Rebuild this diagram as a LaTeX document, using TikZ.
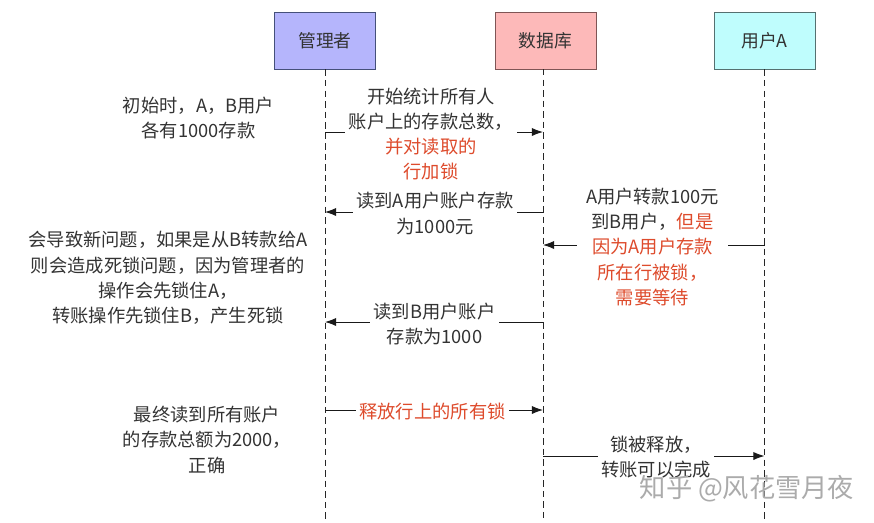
\documentclass[tikz,border=0pt]{standalone}
\usepackage{fontspec}
\setmainfont{Noto Sans CJK SC}
\usetikzlibrary{arrows.meta}
\definecolor{lockred}{HTML}{DE4B2C}
\definecolor{inktext}{HTML}{333333}
\definecolor{adminfill}{HTML}{B5B5FC}
\definecolor{dbfill}{HTML}{FDB9B9}
\definecolor{userfill}{HTML}{BFFDFD}
\definecolor{adminline}{HTML}{45507A}
\definecolor{dbline}{HTML}{7F5555}
\definecolor{userline}{HTML}{557070}
\tikzset{
	actor/.style={draw=#1, minimum width=3.03cm, minimum height=1.71cm, inner sep=0pt, line width=.75pt, font=\fontsize{15.2}{18}\selectfont, text=inktext},
	lifeline/.style={dashed, dash pattern=on 5.5pt off 3.5pt, line width=.8pt, black!85},
	msg/.style={-{Latex[length=9.5pt,width=7pt]}, line width=.8pt, black!90},
	note/.style={align=center, inner sep=1pt, text=inktext, font=\fontsize{15.6}{21.5}\selectfont},
	gap/.style={note, fill=white, inner xsep=3pt, inner ysep=1pt},
}
\begin{document}
\begin{tikzpicture}[x=.03cm,y=-.03cm]
	\useasboundingbox (0,0) rectangle (874,522);
	% participants
	\node[actor=adminline, fill=adminfill] (admin) at (325,40.5) {管理者};
	\node[actor=dbline, fill=dbfill] (db) at (545.5,40.5) {数据库};
	\node[actor=userline, fill=userfill] (usera) at (764.5,40.5) {用户A};
	% lifelines
	\coordinate (adminend) at (admin.south |- 0,522);
	\coordinate (dbend) at (543,522);
	\coordinate (useraend) at (usera.south |- 0,522);
	\coordinate (dbtop) at (543,69);
	\draw[lifeline] (admin.south) -- (adminend);
	\draw[lifeline] (dbtop) -- (dbend);
	\draw[lifeline] (usera.south) -- (useraend);
	% anchors of the messages
	\coordinate (a1) at (admin.south |- 0,132);
	\coordinate (d1) at (dbend |- 0,132);
	\coordinate (a2) at (admin.south |- 0,212);
	\coordinate (d2) at (dbend |- 0,212);
	\coordinate (d3) at (dbend |- 0,245);
	\coordinate (u3) at (usera.south |- 0,245);
	\coordinate (a4) at (admin.south |- 0,322);
	\coordinate (d4) at (dbend |- 0,322);
	\coordinate (a5) at (admin.south |- 0,410);
	\coordinate (d5) at (dbend |- 0,410);
	\coordinate (d6) at (dbend |- 0,456);
	\coordinate (u6) at (usera.south |- 0,456);
	\draw[msg] (a1) -- (d1);
	\draw[msg] (d2) -- (a2);
	\draw[msg] (u3) -- (d3);
	\draw[msg] (d4) -- (a4);
	\draw[msg] (a5) -- (d5);
	\draw[msg] (d6) -- (u6);
	% labels on the messages
	\node[gap] (m1) at (431,134) {开始统计所有人\\账户上的存款总数，\\\textcolor{lockred}{并对读取的}\\\textcolor{lockred}{行加锁}};
	\node[gap] (m2) at (435,213.5) {读到A用户账户存款\\为1000元};
	\node[gap, inner xsep=8pt] (m3) at (652.5,247) {A用户转款100元\\到B用户，\textcolor{lockred}{但是}\\\textcolor{lockred}{因为A用户存款}\\\textcolor{lockred}{所在行被锁，}\\\textcolor{lockred}{需要等待}};
	\node[gap] (m4) at (434.5,324) {读到B用户账户\\存款为1000};
	\node[gap] (m5) at (432.5,411.5) {\textcolor{lockred}{释放行上的所有锁}};
	\node[gap] (m6) at (656,457) {锁被释放，\\转账可以完成};
	% side notes
	\node[note] (n1) at (198.5,118) {初始时，A，B用户\\各有1000存款};
	\node[note] (n2) at (168,278) {会导致新问题，如果是从B转款给A\\则会造成死锁问题，因为管理者的\\操作会先锁住A，\hspace{1em}\\转账操作先锁住B，产生死锁};
	\node[note] (n3) at (207,440) {最终读到所有账户\\的存款总额为2000，\\正确};
	% watermark
	\node[inner sep=0pt, text=black!33, font=\fontsize{22.4}{26}\selectfont] (mark) at (747,488.5) {知乎 @风花雪月夜};
\end{tikzpicture}
\end{document}
